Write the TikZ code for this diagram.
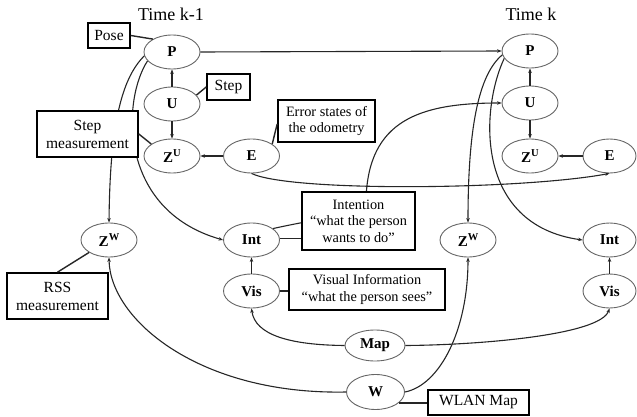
\documentclass[tikz,border=0pt]{standalone}
\usepackage{fontspec}
\setmainfont{Liberation Serif}
\usetikzlibrary{arrows.meta,shapes.geometric,calc}
\newcommand{\supv}[1]{\raisebox{0.42em}{\fontsize{10.5}{10.5}\selectfont #1}}
\begin{document}
\begin{tikzpicture}[x=1pt,y=-1pt,
  var/.style={ellipse,draw=black!60,line width=0.9pt,minimum width=56pt,minimum height=34pt,inner sep=0pt,font=\fontsize{15}{16}\selectfont\bfseries},
  lbl/.style={draw=black,line width=1.6pt,fill=white,align=center,inner sep=0pt,font=\fontsize{15.5}{18}\selectfont},
  lbls/.style={lbl,font=\fontsize{14.3}{16.5}\selectfont},
  arr/.style={-{Stealth[length=4.5pt,width=3.5pt]},line width=1.1pt,black!85},
  con/.style={line width=1.4pt,black!85},
  ttl/.style={font=\fontsize{18}{20}\selectfont,inner sep=0pt}
]
\useasboundingbox (0,0) rectangle (637,417);
% titles
\node[ttl] (t1) at (171,14) {Time k-1};
\node[ttl] (t2) at (531,14) {Time k};
% variables time k-1
\node[var] (P1) at (172,52) {P};
\node[var] (U1) at (172,104) {U};
\node[var] (ZU1) at (172,156) {Z\supv{U}};
\node[var] (E1) at (251.5,156) {E};
\node[var] (ZW1) at (109,240) {Z\supv{W}};
\node[var] (I1) at (251.5,240) {Int};
\node[var] (V1) at (251.5,291) {Vis};
\node[var,minimum width=60pt,minimum height=31pt] (M) at (375,345.5) {Map};
\node[var,minimum width=58pt,minimum height=35pt] (W) at (375.5,392) {W};
% variables time k
\node[var] (P2) at (530,51) {P};
\node[var] (U2) at (530,103) {U};
\node[var] (ZU2) at (530,156) {Z\supv{U}};
\node[var,minimum width=53pt] (E2) at (609.5,156) {E};
\node[var] (ZW2) at (468,240) {Z\supv{W}};
\node[var,minimum width=53pt] (I2) at (609.5,240) {Int};
\node[var,minimum width=53pt] (V2) at (609.5,291) {Vis};
% edges
\draw[arr] (U1) -- (P1);
\draw[arr] (U1) -- (ZU1);
\draw[arr] (E1) -- (ZU1);
\draw[arr] (U2) -- (P2);
\draw[arr] (U2) -- (ZU2);
\draw[arr] (E2) -- (ZU2);
\draw[arr] (V1) -- (I1);
\draw[arr] (V2) -- (I2);
\draw[arr] (P1.east) -- (P2.west);
\draw[arr] (P1.188) .. controls (120,80) and (110,130) .. (ZW1.north);
\draw[arr] (P1.200) .. controls (122,100) and (118,210) .. (I1.west);
\draw[arr] (P2.188) .. controls (478,75) and (468,130) .. (ZW2.north);
\draw[arr] (P2.196) .. controls (480,110) and (475,225) .. (I2.west);
\draw[arr] (I1.28) .. controls (320,218) and (360,215) .. (366,200) .. controls (368,120) and (420,103) .. (U2.west);
\draw[arr] (E1.south) .. controls (290,192) and (520,190) .. (E2.south);
\draw[arr] (M.west) .. controls (290,345) and (255,335) .. (V1.south);
\draw[arr] (M.east) .. controls (480,345) and (600,335) .. (V2.south);
\draw[arr] (W.west) .. controls (200,395) and (110,320) .. (ZW1.south);
\draw[arr] (W.east) .. controls (440,385) and (468,330) .. (ZW2.south);
% labels
\node[lbl,minimum width=42pt,minimum height=25pt] (pose) at (109,35.5) {Pose};
\node[lbl,minimum width=43pt,minimum height=26pt] (step) at (228.5,87) {Step};
\node[lbl,minimum width=101pt,minimum height=46pt] (stepm) at (87.5,134) {Step\\measurement};
\node[lbls,minimum width=97pt,minimum height=42pt] (err) at (326.5,121) {Error states of\\the odometry};
\node[lbl,minimum width=101pt,minimum height=46pt] (rss) at (57.5,296) {RSS\\measurement};
\node[lbls,minimum width=113pt,minimum height=58pt] (intb) at (358.5,221) {Intention\\“what the person\\wants to do”};
\node[lbls,minimum width=156pt,minimum height=41pt] (visb) at (367,289.5) {Visual Information\\“what the person sees”};
\node[lbl,minimum width=101pt,minimum height=25pt] (wlan) at (478.5,402.5) {WLAN Map};
% label connectors
\draw[con] (pose.east) -- (P1.146);
\draw[con] (step.west) -- (U1.20);
\draw[con] (stepm.east) -- (ZU1.150);
\draw[con] ([yshift=-3pt]err.west) -- (E1.30);
\draw[con] (rss.north) -- (ZW1.212);
\draw[con] (I1.3) -- (I1.3 -| intb.west);
\draw[con] (V1.east) -- (V1.east -| visb.west);
\draw[con] (W.-25) -- (W.-25 -| wlan.west);
\end{tikzpicture}
\end{document}
